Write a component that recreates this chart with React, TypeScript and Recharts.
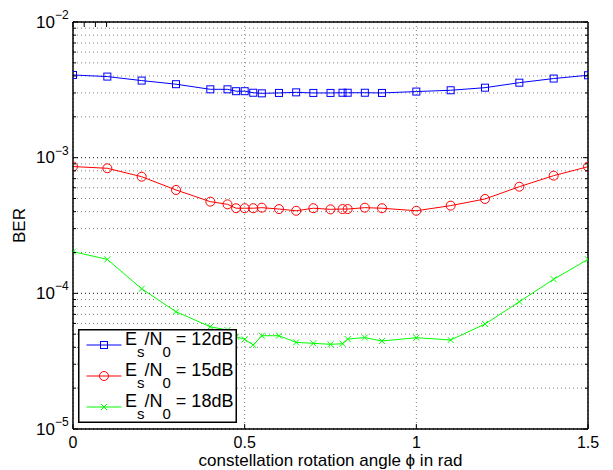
// BER vs. constellation rotation angle — log-scale line chart

import React from 'react';
import {
  LineChart, Line, XAxis, YAxis, CartesianGrid, Legend, ReferenceLine,
} from 'recharts';

// ── data ──

const PHI = [
  0, 0.1, 0.2, 0.3, 0.4, 0.45, 0.475, 0.5, 0.525, 0.55, 0.6, 0.65,
  0.7, 0.75, 0.785, 0.8, 0.85, 0.9, 1.0, 1.1, 1.2, 1.3, 1.4, 1.5,
];

const BER_12DB = [
  4.07e-3, 3.96e-3, 3.7e-3, 3.48e-3, 3.19e-3, 3.19e-3, 3.09e-3, 3.09e-3, 3.01e-3, 2.98e-3, 3.0e-3, 3.03e-3,
  3.0e-3, 3.0e-3, 3.01e-3, 3.01e-3, 3.01e-3, 3.0e-3, 3.07e-3, 3.14e-3, 3.28e-3, 3.57e-3, 3.83e-3, 4.05e-3,
];

const BER_15DB = [
  8.6e-4, 8.35e-4, 7.24e-4, 5.78e-4, 4.74e-4, 4.53e-4, 4.24e-4, 4.24e-4, 4.24e-4, 4.28e-4, 4.18e-4, 4.06e-4,
  4.24e-4, 4.16e-4, 4.18e-4, 4.18e-4, 4.28e-4, 4.24e-4, 4.06e-4, 4.43e-4, 4.96e-4, 6.11e-4, 7.37e-4, 8.58e-4,
];

const BER_18DB = [
  2.03e-4, 1.78e-4, 1.08e-4, 7.32e-5, 5.67e-5, 5.36e-5, 4.79e-5, 4.58e-5, 4.16e-5, 4.87e-5, 4.87e-5, 4.35e-5,
  4.28e-5, 4.21e-5, 4.25e-5, 4.6e-5, 4.72e-5, 4.45e-5, 4.71e-5, 4.53e-5, 5.94e-5, 8.67e-5, 1.27e-4, 1.78e-4,
];

const X_TICKS = [0, 0.5, 1, 1.5];
const X_TICK_LABELS = ['0', '0.5', '1', '1.5'];
const Y_DECADES = [1e-5, 1e-4, 1e-3, 1e-2];
const Y_MANTISSAS = [1, 2, 3, 4, 5, 6, 7, 8, 9];

type Shape = 'square' | 'circle' | 'cross';

const SERIES: { key: string; snr: string; color: string; shape: Shape }[] = [
  { key: 'ber12', snr: '12', color: '#0000ff', shape: 'square' },
  { key: 'ber15', snr: '15', color: '#ff0000', shape: 'circle' },
  { key: 'ber18', snr: '18', color: '#00ff00', shape: 'cross' },
];

const chartData = PHI.map((phi, i) => ({
  phi,
  ber12: BER_12DB[i],
  ber15: BER_15DB[i],
  ber18: BER_18DB[i],
}));

// decades + minor ticks for the log axis
const Y_TICKS: number[] = [];
Y_DECADES.slice(0, -1).forEach((d) => Y_MANTISSAS.forEach((m) => Y_TICKS.push(m * d)));
Y_TICKS.push(Y_DECADES[Y_DECADES.length - 1]);

// ── style ──

const FONT = '"Liberation Sans", Arial, Helvetica, sans-serif';
const AXIS_LINE = { stroke: '#000', strokeWidth: 1.5 };
const MAJOR_LEN = 5;
const MINOR_LEN = 3;

function isDecade(v: number): boolean {
  const e = Math.round(Math.log10(v));
  return Math.abs(v / Math.pow(10, e) - 1) < 1e-6;
}

// ── markers ──

function Marker({ shape, cx, cy, color }: { shape: Shape; cx: number; cy: number; color: string }) {
  if (shape === 'square') {
    return <rect x={cx - 3.5} y={cy - 3.5} width={7} height={7} fill="none" stroke={color} strokeWidth={1} />;
  }
  if (shape === 'circle') {
    return <circle cx={cx} cy={cy} r={4.5} fill="none" stroke={color} strokeWidth={1} />;
  }
  return (
    <g stroke={color} strokeWidth={1}>
      <line x1={cx - 3} y1={cy - 3} x2={cx + 3} y2={cy + 3} />
      <line x1={cx - 3} y1={cy + 3} x2={cx + 3} y2={cy - 3} />
    </g>
  );
}

// ── ticks (inward, MATLAB style) ──

function LeftTick(props: any) {
  const { x, y, payload } = props;
  const v = payload.value as number;
  const major = isDecade(v);
  const exp = Math.round(Math.log10(v));
  return (
    <g>
      <line x1={x} x2={x + (major ? MAJOR_LEN : MINOR_LEN)} y1={y} y2={y} stroke="#000" />
      {major && (
        <g fontFamily={FONT} fill="#000">
          <text x={x - 18} y={y} textAnchor="end" dominantBaseline="central" fontSize={17}>10</text>
          <text x={x - 18} y={y - 7} textAnchor="start" dominantBaseline="central" fontSize={12}>
            {`\u2212${-exp}`}
          </text>
        </g>
      )}
    </g>
  );
}

function RightTick(props: any) {
  const { x, y, payload } = props;
  const major = isDecade(payload.value as number);
  return <line x1={x} x2={x - (major ? MAJOR_LEN : MINOR_LEN)} y1={y} y2={y} stroke="#000" />;
}

function BottomTick(props: any) {
  const { x, y, index } = props;
  return (
    <g>
      <line x1={x} x2={x} y1={y} y2={y - MAJOR_LEN} stroke="#000" />
      <text x={x} y={y + 13} textAnchor="middle" dominantBaseline="central" fontSize={16} fontFamily={FONT} fill="#000">
        {X_TICK_LABELS[index]}
      </text>
    </g>
  );
}

function TopTick(props: any) {
  const { x, y } = props;
  return <line x1={x} x2={x} y1={y} y2={y + MAJOR_LEN} stroke="#000" />;
}

// ── axis titles ──

function YTitle(props: any) {
  const { viewBox } = props;
  const x = viewBox.x + 19;
  const y = viewBox.y + viewBox.height / 2;
  return (
    <text x={x} y={y} transform={`rotate(-90 ${x} ${y})`} textAnchor="middle" dominantBaseline="central"
      fontSize={17} fontFamily={FONT} fill="#000">
      BER
    </text>
  );
}

function XTitle(props: any) {
  const { viewBox } = props;
  return (
    <text x={viewBox.x + viewBox.width / 2} y={viewBox.y + 31} textAnchor="middle" dominantBaseline="central"
      fontSize={17} fontFamily={FONT} fill="#000">
      constellation rotation angle {'\u03D5'} in rad
    </text>
  );
}

// ── legend ──

function LegendBox() {
  const rows = [16, 47, 78];
  return (
    <svg width={159} height={94} style={{ display: 'block' }}>
      <rect x={0.75} y={0.75} width={157.5} height={92.5} fill="#fff" stroke="#000" strokeWidth={1.5} />
      {SERIES.map((s, i) => (
        <g key={s.key}>
          <line x1={8.5} x2={43.5} y1={rows[i]} y2={rows[i]} stroke={s.color} strokeWidth={1} />
          <Marker shape={s.shape} cx={26} cy={rows[i]} color={s.color} />
          <text x={47} y={rows[i]} fontSize={18} fontFamily={FONT} fill="#000">
            <tspan>E</tspan><tspan fontSize={15} dy={12}>s</tspan><tspan dy={-12}>/N</tspan><tspan fontSize={15} dy={12}>0</tspan><tspan dy={-12}>{`\u00a0=\u00a0${s.snr}dB`}</tspan>
          </text>
        </g>
      ))}
    </svg>
  );
}

// ── main ──

export default function App() {
  return (
    <div style={{ position: 'absolute', left: 0, top: 0, background: '#fff' }}>
      <LineChart width={613} height={470} data={chartData} margin={{ top: 0, right: 0, bottom: 0, left: 0 }}>
        <CartesianGrid stroke="#808080" strokeDasharray="1 3" />
        {Y_DECADES.map((d) => (
          <ReferenceLine key={d} y={d} stroke="#333" strokeDasharray="1 3" />
        ))}
        <XAxis
          type="number" dataKey="phi" domain={[0, 1.5]} ticks={X_TICKS} interval={0}
          height={41} tickSize={0} tickMargin={0} tick={<BottomTick />}
          axisLine={AXIS_LINE} allowDataOverflow
          label={<XTitle />}
        />
        <XAxis
          xAxisId="top" orientation="top" type="number" domain={[0, 1.5]} ticks={X_TICKS} interval={0}
          height={22} tickSize={0} tickMargin={0} tick={<TopTick />}
          axisLine={AXIS_LINE} allowDataOverflow
        />
        <YAxis
          type="number" scale="log" domain={[1e-5, 1e-2]} ticks={Y_TICKS} interval={0}
          width={73} tickSize={0} tickMargin={0} tick={<LeftTick />}
          axisLine={AXIS_LINE} allowDataOverflow
          label={<YTitle />}
        />
        <YAxis
          yAxisId="right" orientation="right" type="number" scale="log" domain={[1e-5, 1e-2]}
          ticks={Y_TICKS} interval={0} width={25} tickSize={0} tickMargin={0} tick={<RightTick />}
          axisLine={AXIS_LINE} allowDataOverflow
        />
        {SERIES.map((s) => (
          <Line
            key={s.key}
            dataKey={s.key}
            stroke={s.color}
            strokeWidth={1}
            isAnimationActive={false}
            dot={(p: any) => <Marker key={`${s.key}-${p.index}`} shape={s.shape} cx={p.cx} cy={p.cy} color={s.color} />}
            activeDot={false}
          />
        ))}
        <Legend
          layout="vertical" align="center" verticalAlign="middle"
          wrapperStyle={{ left: 78, top: 329, width: 159, height: 94 }}
          content={() => <LegendBox />}
        />
      </LineChart>
    </div>
  );
}
